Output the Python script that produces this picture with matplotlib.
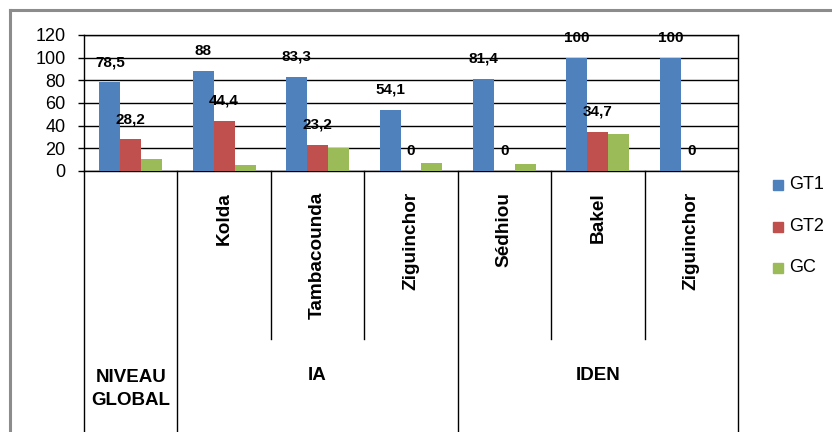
import numpy as np
import matplotlib
matplotlib.use("Agg")
from matplotlib import pyplot as plt
from matplotlib.patches import Rectangle
from matplotlib.lines import Line2D

# ---- Data ----
categories = ["NIVEAU\nGLOBAL", "Kolda", "Tambacounda", "Ziguinchor",
              "Sédhiou", "Bakel", "Ziguinchor"]
groups = ["NIVEAU\nGLOBAL", "IA", "IDEN"]
group_spans = [(0, 0), (1, 3), (4, 6)]   # first / last category index of each group
gt1 = [78.5, 88, 83.3, 54.1, 81.4, 100, 100]
gt2 = [28.2, 44.4, 23.2, 0, 0, 34.7, 0]
gc = [11, 5, 20.5, 7, 6, 33, 0]
series_names = ["GT1", "GT2", "GC"]
colors = ["#4F81BD", "#C0504D", "#9BBB59"]
y_ticks = [0, 20, 40, 60, 80, 100, 120]

W, H = 832, 432
fig = plt.figure(figsize=(W / 100, H / 100), dpi=100)

def fx(px):
    return px / W

def fy(px):
    # pixel from top -> figure fraction from bottom
    return 1 - px / H

# outer chart border (grey)
fig.add_artist(Line2D([fx(10), fx(10)], [fy(10), -0.1], color="#8c8c8c", lw=2.2,
                      transform=fig.transFigure))
fig.add_artist(Line2D([fx(10), 1.1], [fy(10), fy(10)], color="#8c8c8c", lw=2.2,
                      transform=fig.transFigure))

# ---- Bars ----
left, right, top, zero = 84, 738, 35, 171
ax = fig.add_axes([fx(left), fy(zero), fx(right - left), (zero - top) / H])
x = np.arange(len(categories))
bw = 0.224
for i, (vals, c) in enumerate(zip([gt1, gt2, gc], colors)):
    bars = ax.bar(x + (i - 1) * bw, vals, bw, color=c, zorder=3)
    if i < 2:
        for b, v in zip(bars, vals):
            lab = f"{v:g}".replace(".", ",")
            ax.annotate(lab, (b.get_x() + b.get_width() / 2, v),
                        xytext=(0, 14.4), textcoords="offset points",
                        ha="center", va="center", fontsize=11, fontweight="bold",
                        family="Liberation Sans", zorder=5)

ax.set_xlim(-0.5, len(categories) - 0.5)
ax.set_ylim(0, 120)
ax.set_yticks(y_ticks)
ax.set_yticklabels([str(t) for t in y_ticks], family="Liberation Sans", fontsize=13)
ax.tick_params(axis="y", length=4.3, width=1, pad=9, colors="black")
ax.tick_params(axis="x", length=0, labelbottom=False)
ax.yaxis.grid(True, color="black", lw=1, zorder=0)
ax.set_axisbelow(True)
for s in ax.spines.values():
    s.set_color("black")
    s.set_linewidth(1)

# ---- Multi-level category axis ----
cax = fig.add_axes([fx(left), 0, fx(right - left), fy(zero)])
cax.set_xlim(-0.5, len(categories) - 0.5)
cax.set_ylim(0, H - zero)
cax.axis("off")
inner_bottom = H - 339
outer = {-0.5} | {g[1] + 0.5 for g in group_spans}
for b in np.arange(-0.5, len(categories), 1.0):
    y0 = 0 if b in outer else inner_bottom
    cax.plot([b, b], [y0, H - zero], color="black", lw=1, clip_on=False)

for i, name in enumerate(categories):
    if i == 0:
        continue
    cax.text(i, H - 192, name, rotation=90, ha="center", va="top",
             fontsize=13.7, fontweight="bold", family="Liberation Sans")

for name, (a, b) in zip(groups, group_spans):
    cy = H - 389 if "\n" in name else H - 375
    cax.text((a + b) / 2, cy, name, ha="center", va="center", fontsize=13.5,
             fontweight="bold", family="Liberation Sans", linespacing=1.45)

# ---- Legend ----
for k, (name, c) in enumerate(zip(series_names, colors)):
    yc = 185 + k * 41.5
    fig.add_artist(Rectangle((fx(773), fy(yc + 5)), fx(10), 10 / H, color=c,
                             transform=fig.transFigure))
    fig.text(fx(789), fy(yc), name, ha="left", va="center", fontsize=13,
             family="Liberation Sans")

fig.savefig("out.png", dpi=100)
